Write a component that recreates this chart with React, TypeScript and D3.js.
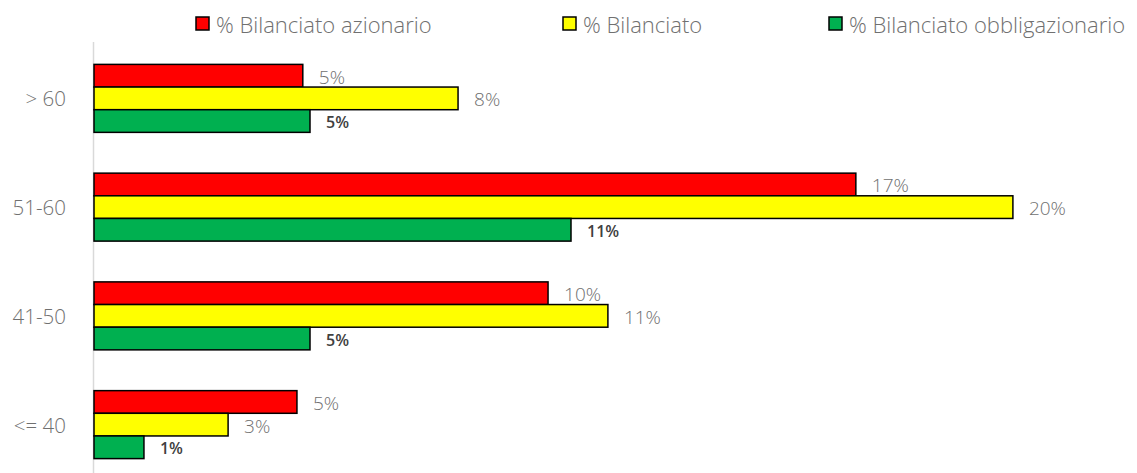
import React, { useEffect, useRef } from 'react';
import * as d3 from 'd3';

// fasce d'età (dall'alto verso il basso)
const categories = ['> 60', '51-60', '41-50', '<= 40'];
const seriesNames = ['% Bilanciato azionario', '% Bilanciato', '% Bilanciato obbligazionario'];
const seriesColors = ['#FF0000', '#FFFF00', '#00B050'];

// valori in frazione, per fascia
const azionario = [0.0464, 0.1693, 0.1009, 0.0451];
const bilanciato = [0.0809, 0.2042, 0.1142, 0.0298];
const obbligazionario = [0.048, 0.106, 0.048, 0.0111];

const W = 1137;
const H = 473;

const App = () => {
    const svgRef = useRef(null);

    useEffect(() => {
        const svg = d3.select(svgRef.current);
        svg.selectAll('*').remove();

        const font = "'Open Sans', 'DejaVu Sans', sans-serif";
        const x0 = 94;
        const grey = '#707070';

        const x = d3.scaleLinear().domain([0, 0.25]).range([x0, x0 + 1125]);
        const y = d3.scaleBand().domain(categories).range([44, 479]).paddingInner(0.375).paddingOuter(0.1875);
        const ySub = d3.scaleBand().domain(['0', '1', '2']).range([0, y.bandwidth()]);

        const allSeries = [azionario, bilanciato, obbligazionario];
        const fmt = d3.format('.0%');

        // asse verticale
        svg.append('line')
            .attr('x1', x0 - 0.5).attr('x2', x0 - 0.5)
            .attr('y1', 42).attr('y2', H)
            .attr('stroke', '#d9d9d9').attr('stroke-width', 1.5);

        allSeries.forEach((vals, si) => {
            const g = svg.append('g');
            g.selectAll('rect')
                .data(vals)
                .join('rect')
                .attr('x', x(0))
                .attr('y', (d, i) => y(categories[i]) + ySub(String(si)))
                .attr('width', d => x(d) - x(0))
                .attr('height', ySub.bandwidth())
                .attr('fill', seriesColors[si])
                .attr('stroke', '#000')
                .attr('stroke-width', 1.5);

            g.selectAll('text')
                .data(vals)
                .join('text')
                .attr('x', d => x(d) + 16)
                .attr('y', (d, i) => y(categories[i]) + ySub(String(si)) + ySub.bandwidth() / 2 + 1)
                .attr('dominant-baseline', 'central')
                .attr('font-family', font)
                .attr('font-size', si === 2 ? 16 : 19)
                .attr('font-weight', si === 2 ? 600 : 300)
                .attr('fill', si === 2 ? '#404040' : grey)
                .text(d => fmt(d));
        });

        // etichette categorie
        svg.append('g')
            .selectAll('text')
            .data(categories)
            .join('text')
            .attr('x', 66)
            .attr('y', d => y(d) + y.bandwidth() / 2)
            .attr('text-anchor', 'end')
            .attr('dominant-baseline', 'central')
            .attr('font-family', font)
            .attr('font-size', 20.5)
            .attr('font-weight', 300)
            .attr('fill', grey)
            .text(d => d);

        // legenda
        const legendX = [196, 563, 829];
        const legend = svg.append('g');
        seriesNames.forEach((name, i) => {
            legend.append('rect')
                .attr('x', legendX[i]).attr('y', 17)
                .attr('width', 13).attr('height', 13)
                .attr('fill', seriesColors[i])
                .attr('stroke', '#000').attr('stroke-width', 1.5);
            legend.append('text')
                .attr('x', legendX[i] + 20)
                .attr('y', 24)
                .attr('dominant-baseline', 'central')
                .attr('font-family', font)
                .attr('font-size', 22)
                .attr('font-weight', 300)
                .attr('fill', grey)
                .text(name);
        });
    }, []);

    return (
        <svg ref={svgRef} width={W} height={H} style={{ position: 'absolute', left: 0, top: 0, background: '#fff' }}></svg>
    );
};

export default App;
